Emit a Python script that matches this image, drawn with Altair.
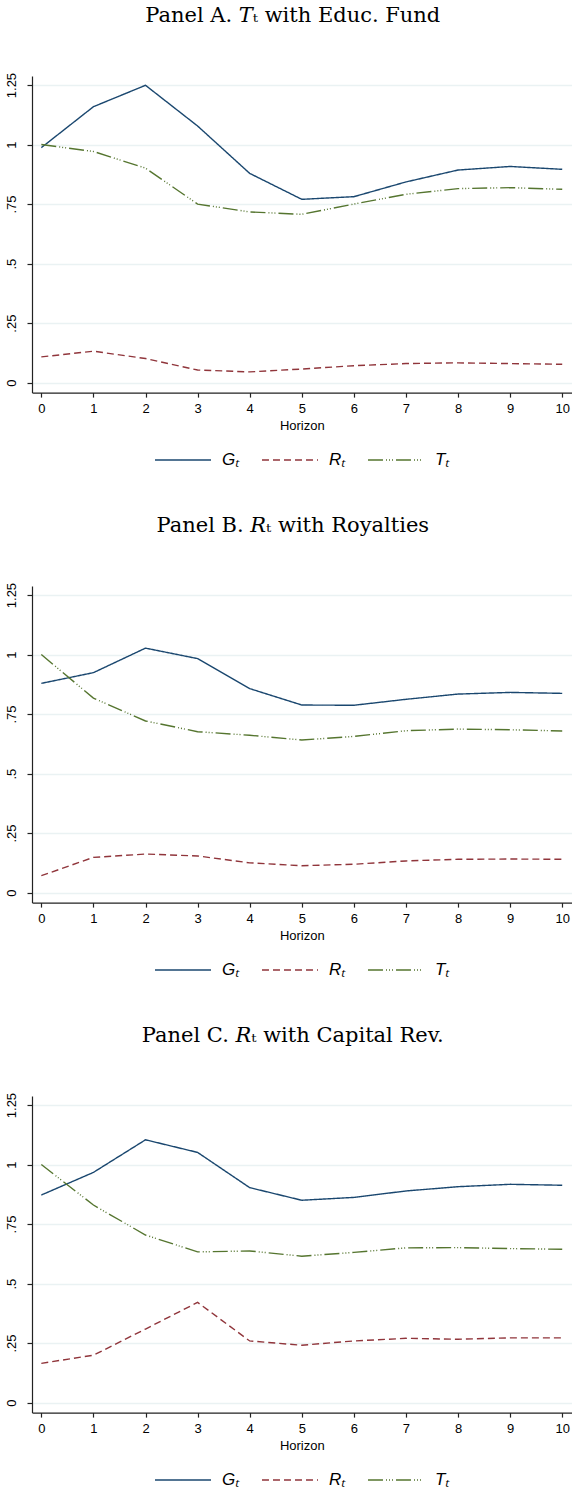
import altair as alt
import pandas as pd

horizon = list(range(11))
series = ["Gₜ", "Rₜ", "Tₜ"]
colors = ["#1a476f", "#90353b", "#55752f"]
dashes = [[1, 0], [7, 4], [15, 3, 1, 2, 1, 2, 1, 3]]
y_ticks = [0, 0.25, 0.5, 0.75, 1, 1.25]

titles = [
    "Panel A. 𝑇ₜ with Educ. Fund",
    "Panel B. 𝑅ₜ with Royalties",
    "Panel C. 𝑅ₜ with Capital Rev.",
]

A_G = [0.987, 1.159, 1.249, 1.078, 0.879, 0.770, 0.781, 0.843, 0.893, 0.908, 0.896]
A_R = [0.108, 0.132, 0.101, 0.053, 0.045, 0.057, 0.071, 0.080, 0.083, 0.080, 0.077]
A_T = [1.000, 0.971, 0.901, 0.750, 0.717, 0.707, 0.750, 0.791, 0.815, 0.819, 0.812]

B_G = [0.879, 0.924, 1.027, 0.983, 0.857, 0.788, 0.787, 0.812, 0.834, 0.841, 0.837]
B_R = [0.071, 0.148, 0.162, 0.154, 0.125, 0.113, 0.119, 0.133, 0.140, 0.141, 0.140]
B_T = [1.000, 0.817, 0.721, 0.676, 0.661, 0.641, 0.656, 0.680, 0.687, 0.684, 0.679]

C_G = [0.872, 0.967, 1.104, 1.051, 0.903, 0.850, 0.862, 0.889, 0.907, 0.917, 0.913]
C_R = [0.165, 0.199, 0.309, 0.421, 0.259, 0.241, 0.259, 0.270, 0.266, 0.272, 0.272]
C_T = [1.000, 0.830, 0.704, 0.633, 0.637, 0.615, 0.631, 0.650, 0.651, 0.647, 0.644]

panels = [(A_G, A_R, A_T), (B_G, B_R, B_T), (C_G, C_R, C_T)]

legend = alt.Legend(
    title=None,
    orient="none",
    legendX=122,
    legendY=355,
    direction="horizontal",
    symbolType="stroke",
    symbolSize=3136,
    symbolStrokeWidth=1.4,
    labelFont="Liberation Sans",
    labelFontStyle="italic",
    labelFontSize=17,
    labelColor="black",
    labelOffset=10,
    columnPadding=19,
    padding=0,
)


def panel(title, G, R, T):
    df = pd.DataFrame({
        "h": horizon * 3,
        "v": G + R + T,
        "s": [series[0]] * 11 + [series[1]] * 11 + [series[2]] * 11,
    })
    return alt.Chart(
        df,
        title=alt.Title(title, font="DejaVu Serif", fontSize=21, fontWeight="normal",
                        color="black", anchor="middle", offset=46, dx=-9),
    ).mark_line(strokeWidth=1.4).encode(
        x=alt.X("h:Q", scale=alt.Scale(domain=[-0.179, 10.18], nice=False, zero=False),
                axis=alt.Axis(values=horizon, title="Horizon", grid=False, tickSize=4.5,
                              labelPadding=5, titlePadding=4, labelFlush=False)),
        y=alt.Y("v:Q", scale=alt.Scale(domain=[-0.042, 1.288], nice=False, zero=False),
                axis=alt.Axis(values=y_ticks, title=None, labelAngle=270, tickSize=5,
                              labelAlign="center", labelBaseline="bottom", labelPadding=8,
                              labelFlush=False,
                              labelExpr="datum.value > 0 && datum.value < 1 ? slice(format(datum.value, '.3~g'), 1) : format(datum.value, '.3~g')")),
        color=alt.Color("s:N", scale=alt.Scale(domain=series, range=colors), legend=legend),
        strokeDash=alt.StrokeDash("s:N", scale=alt.Scale(domain=series, range=dashes), legend=legend),
    ).properties(width=539.6, height=316.6)


chart = alt.vconcat(
    *[panel(t, *p) for t, p in zip(titles, panels)], spacing=47
).resolve_legend(color="independent", strokeDash="independent").properties(
    padding={"left": 5, "top": 5, "right": 0, "bottom": 0},
    background="white",
).configure_view(stroke=None).configure_axis(
    domainColor="#222",
    domainWidth=1.2,
    tickColor="#222",
    tickWidth=1.2,
    labelFont="Liberation Sans",
    labelFontSize=13,
    labelColor="black",
    titleFont="Liberation Sans",
    titleFontSize=13,
    titleFontWeight="normal",
    titleColor="black",
    gridColor="#eaf2f3",
    gridWidth=1.3,
)

chart.save("out.html", embed_options={"renderer": "svg", "actions": False})
